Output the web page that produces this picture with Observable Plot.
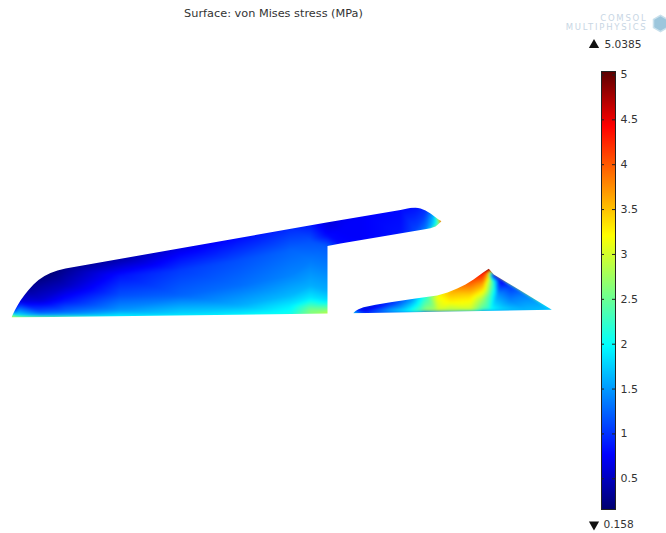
<!DOCTYPE html>
<html><head><meta charset="utf-8">
<script src="https://cdn.jsdelivr.net/npm/d3@7"></script>
<script src="https://cdn.jsdelivr.net/npm/@observablehq/plot@0.6"></script>
<style>
html,body{margin:0;padding:0;background:#fff}
#wrap{position:relative;width:666px;height:533px;overflow:hidden}
#wrap svg{position:absolute;top:0}
.logo text{letter-spacing:1.75px}
</style></head><body><div id="wrap"></div>
<script>
// Colour scale (COMSOL "Rainbow")
const stressStops = [0.158, 0.768, 1.99, 3.21, 4.43, 5.0385];
const stressColors = ["#00006e", "#0000ff", "#00ffff", "#ffff00", "#ff0000", "#5c0000"];
const barTicks = [0.5, 1, 1.5, 2, 2.5, 3, 3.5, 4, 4.5, 5];

// Upper body outline
const bodyOutlineX = [11,12.5,14.5,17,20,24,28,33,38,44,50,57,65,326,400,407,411,415,420,425,430,434,438,441,438,435,430,423,340,327,327,11];
const bodyOutlineY = [317,313.5,309.5,305,300,294.5,289.5,284,279.5,275.5,272.5,270,268,222,209.5,208,207.3,207,208,210,213,216,219,220.7,223.5,226,227.7,229,243,245.5,313,317];
// Upper body field samples
const bodyX = [11,16,14,20,28,38,50,65,40,40,40,65,65,65,65,120,120,120,120,120,180,180,180,180,240,240,240,240,240,290,290,290,290,290,290,310,310,310,310,310,310,310,327,327,327,327,327,327,327,327,340,340,340,360,360,400,400,415,415,425,425,433,433,437,438.5,441];
const bodyY = [317,315,310,300,289,279,272,268,300,312,316,285,300,312,316,258,275,295,310,316,247,270,295,315,236,260,285,305,314.5,226.5,250,275,295,305,314,223,240,260,285,298,308,313,220,235,246,270,290,300,308,313,218,230,243,214,238,209,232,207,230,211,229,215,226,219,223,220.5];
const bodyStress = [3,1.9,1,0.6,0.35,0.25,0.2,0.3,0.6,1.2,1.8,0.5,0.85,1.3,1.8,0.4,0.85,1.15,1.5,1.95,0.65,1.05,1.25,1.85,0.8,1.15,1.3,1.6,1.95,0.95,1.25,1.4,1.65,1.9,2.1,0.85,1.15,1.35,1.6,1.9,2.5,2.7,0.6,0.8,1.2,1.4,1.6,1.85,2.5,2.9,0.7,0.75,0.8,0.75,0.75,0.8,0.85,0.85,1.1,1,1.35,1.6,1.8,2.2,2.6,4.3];

// Lower wedge outline
const wedgeOutlineX = [352.7,355,358,363,375,390,415,436.7,447,456.7,465,473,483,488.3,493.3,520,551.3,352.7];
const wedgeOutlineY = [312.7,310.5,308.8,306.7,304.3,301.7,298,295,292,288,284,279,271.7,268.3,274,290,309.3,312.7];
// Lower wedge field samples
const wedgeX = [352.7,356,365,365,390,390,410,410,425,425,437,437,450,450,450,470,470,470,482,482,482,482,486,488.3,490,490,490,493.3,500,497,497,510,510,510,525,525,551.3];
const wedgeY = [312.7,309,306.5,312.5,301.7,312,298.5,311.5,296.5,311,295,311,291,300,310,280,295,310,272,285,300,310,273,268.3,280,295,310,274,280,295,310,285,300,310,293,309.5,309.3];
const wedgeStress = [1.8,0.8,0.5,1,0.9,1.7,1.4,2.1,2.2,2.7,3.2,2.9,3.6,3.3,2.8,4.1,3.4,2.9,4.4,3.6,2.7,2.3,3.9,5,2.7,2.3,2.05,0.5,0.7,1.5,1.9,1,1.4,1.75,1.35,1.65,1.7];

// Text
const titleLabel = ["Surface: von Mises stress (MPa)"];
const maxLabel = ["5.0385"];
const minLabel = ["0.158"];
const logoLabels = ["COMSOL", "MULTIPHYSICS"];

const colorOptions = {type: "linear", domain: stressStops, range: stressColors, interpolate: "rgb", clamp: true};

let clipCount = 0;
function clipTo(outlineX, outlineY) {
  return function (index, scales, values, dimensions, context, next) {
    const g = next(index, scales, values, dimensions, context);
    const id = "clip-" + (++clipCount);
    const line = d3.line().x(i => scales.x(outlineX[i])).y(i => scales.y(outlineY[i]));
    const cp = document.createElementNS("http://www.w3.org/2000/svg", "clipPath");
    cp.setAttribute("id", id);
    const p = document.createElementNS("http://www.w3.org/2000/svg", "path");
    p.setAttribute("d", line(d3.range(outlineX.length)));
    cp.appendChild(p);
    g.appendChild(cp);
    g.setAttribute("clip-path", `url(#${id})`);
    return g;
  };
}

const textFont = "DejaVu Sans";
const main = Plot.plot({
  width: 666, height: 533, margin: 0,
  x: {domain: [0, 666], axis: null},
  y: {domain: [533, 0], axis: null},
  color: colorOptions,
  style: {background: "transparent", fontFamily: textFont},
  marks: [
    Plot.raster(bodyStress, {x: bodyX, y: bodyY, fill: bodyStress, interpolate: "barycentric", blur: 1, render: clipTo(bodyOutlineX, bodyOutlineY)}),
    Plot.raster(wedgeStress, {x: wedgeX, y: wedgeY, fill: wedgeStress, interpolate: "barycentric", blur: 1, render: clipTo(wedgeOutlineX, wedgeOutlineY)}),
    Plot.text(titleLabel, {x: [273], y: [12.5], text: d => d, fontSize: 11.3, fill: "#333"}),
    Plot.dot([0], {x: [593.5], y: [44.5], r: 3.8, symbol: "triangle", fill: "#111"}),
    Plot.text(maxLabel, {x: [604], y: [44.5], text: d => d, textAnchor: "start", fontSize: 10.6, fill: "#333"}),
    Plot.dot([0], {x: [593.5], y: [524], r: 3.8, symbol: "triangle", rotate: 180, fill: "#111"}),
    Plot.text(minLabel, {x: [603], y: [524], text: d => d, textAnchor: "start", fontSize: 10.6, fill: "#333"}),
    Plot.text(logoLabels, {x: [647, 647], y: [18, 26.5], text: d => d, textAnchor: "end", fontSize: 8.5, fill: "#c8d6e4", className: "logo"}),
    Plot.dot([0], {x: [660], y: [23], r: 7, symbol: "hexagon", fill: "#9cc6dc", stroke: "#c8e0ec"})
  ]
});

const bar = Plot.plot({
  width: 65, height: 533,
  marginLeft: 0, marginRight: 51, marginTop: 71, marginBottom: 24,
  x: {domain: [0, 1], axis: null},
  y: {domain: [stressStops[0], stressStops[stressStops.length - 1]]},
  color: colorOptions,
  style: {background: "transparent", fontFamily: textFont, fontSize: "11px", color: "#333", overflow: "visible"},
  marks: [
    Plot.raster({fill: (x, y) => y, x1: 0, x2: 1, y1: stressStops[0], y2: stressStops[stressStops.length - 1], pixelSize: 1}),
    Plot.tickY(barTicks, {y: d => d, insetRight: 11, stroke: "#222"}),
    Plot.tickY(barTicks, {y: d => d, insetLeft: 11, stroke: "#222"}),
    Plot.frame({stroke: "#222"}),
    Plot.axisY(barTicks, {anchor: "right", tickSize: 0, tickPadding: 5, label: null, tickFormat: d => String(d), fontSize: 11})
  ]
});
bar.style.left = "601px";

const wrap = document.getElementById("wrap");
main.style.left = "0px";
wrap.appendChild(main);
wrap.appendChild(bar);
</script></body></html>
